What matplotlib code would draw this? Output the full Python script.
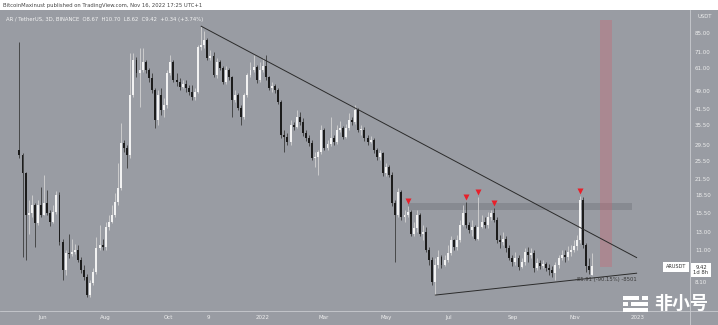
import datetime as dt

import matplotlib
matplotlib.use('Agg')
import matplotlib.pyplot as plt
import matplotlib.dates as mdates
from matplotlib.patches import Rectangle, FancyBboxPatch
from matplotlib.lines import Line2D
from matplotlib.ticker import FixedLocator, FuncFormatter, NullLocator
import numpy as np

# ---- data (ARUSDT, 3D candles) ----
start = dt.date(2021, 5, 9)
first_open = 28.2
last_open = 8.67

closes = [26.9, 22.6, 15.3, 15.6, 16.8, 14.2, 16.8, 15.3, 17.1, 15.6,
          14.3, 15.7, 18.4, 11.8, 9.07, 10.65, 10.55, 10.75, 10.96, 9.97,
          9.07, 8.49, 7.16, 8.02, 8.9, 11.2, 11.5, 11.3, 13.6, 14.3,
          15.2, 17.3, 19.7, 30.1, 28.7, 26.9, 47.4, 65.9, 58.3, 60.0,
          64.6, 60.0, 55.6, 49.7, 37.4, 47.4, 41.1, 43.1, 58.3, 64.6,
          54.6, 53.6, 51.1, 52.6, 50.6, 48.8, 46.5, 48.8, 74.6, 76.0,
          79.6, 67.2, 68.5, 57.2, 64.6, 61.2, 53.6, 60.0, 56.1, 45.2,
          47.4, 41.9, 38.5, 47.4, 57.2, 60.0, 61.8, 54.6, 60.0, 62.3,
          56.1, 50.6, 51.6, 49.7, 44.3, 32.5, 31.9, 30.4, 35.7, 35.0,
          38.5, 36.7, 33.0, 31.6, 30.1, 26.1, 26.4, 27.7, 34.0, 28.7,
          29.8, 31.6, 30.4, 34.0, 34.7, 31.9, 34.7, 37.4, 36.7, 41.1,
          34.0, 34.0, 31.6, 30.4, 31.0, 28.2, 26.4, 27.4, 22.6, 24.0,
          22.3, 17.1, 15.3, 18.9, 15.0, 15.3, 15.7, 12.8, 13.5, 15.3,
          12.8, 13.0, 10.96, 9.97, 8.1, 9.5, 10.3, 9.5, 9.97, 10.65,
          12.0, 11.3, 12.0, 13.9, 15.6, 13.9, 13.2, 13.6, 12.2, 13.6,
          14.3, 13.9, 14.9, 15.6, 14.6, 12.0, 11.8, 12.2, 11.2, 10.2,
          9.78, 10.2, 9.33, 9.78, 10.75, 10.5, 10.65, 9.25, 9.68, 9.4,
          9.59, 9.25, 9.07, 8.81, 9.5, 10.2, 10.5, 10.3, 10.75, 10.96,
          11.4, 12.0, 17.6, 11.5, 9.4, 9.08, 9.42]

highs = [78.1, 27.4, 22.9, 17.6, 18.4, 17.1, 17.6, 19.9, 22.3, 19.3,
         16.0, 16.8, 19.1, 18.9, 12.2, 10.96, 12.8, 12.2, 11.6, 11.5,
         10.3, 9.5, 8.73, 8.25, 9.25, 12.4, 13.9, 12.2, 14.3, 15.3,
         16.8, 18.8, 24.9, 36.4, 31.0, 29.5, 70.4, 70.4, 67.8, 73.8,
         73.8, 65.9, 61.2, 58.3, 50.6, 49.7, 50.6, 46.1, 60.0, 69.1,
         65.9, 58.0, 55.6, 54.6, 54.6, 52.1, 52.1, 50.6, 76.0, 90.6,
         86.6, 81.1, 72.4, 71.0, 67.2, 65.9, 62.3, 62.3, 61.0, 56.6,
         49.7, 48.3, 43.1, 48.3, 58.3, 64.6, 69.1, 62.9, 64.6, 67.2,
         69.1, 56.6, 53.6, 52.6, 50.6, 45.2, 34.0, 33.0, 37.4, 36.7,
         41.1, 40.3, 38.1, 34.0, 32.5, 31.0, 27.7, 28.2, 35.7, 34.7,
         31.0, 38.5, 32.5, 35.7, 37.0, 35.4, 36.0, 39.9, 38.5, 43.1,
         41.9, 35.7, 35.0, 32.5, 32.2, 31.6, 28.7, 28.2, 27.7, 24.9,
         24.5, 22.9, 17.6, 19.7, 19.3, 16.0, 16.6, 16.0, 14.3, 16.0,
         15.6, 13.9, 13.6, 11.3, 10.3, 10.2, 10.96, 10.5, 10.5, 11.5,
         12.5, 12.2, 12.6, 14.6, 16.8, 17.3, 14.3, 14.6, 13.9, 18.1,
         15.3, 14.9, 15.7, 16.0, 16.3, 14.9, 12.6, 13.0, 12.5, 11.5,
         10.5, 10.75, 10.5, 10.2, 11.2, 11.3, 11.2, 10.96, 10.2, 9.97,
         9.97, 9.78, 9.59, 9.4, 9.78, 10.5, 10.96, 10.96, 11.4, 11.5,
         12.0, 12.6, 18.3, 18.0, 11.7, 10.2, 10.70]

lows = [26.1, 10.3, 9.97, 12.8, 14.9, 11.3, 13.9, 14.9, 15.2, 15.2,
        13.8, 14.1, 15.4, 11.5, 8.25, 8.65, 10.2, 10.4, 10.55, 9.78,
        8.8, 8.25, 7.03, 7.05, 7.87, 8.7, 10.96, 10.96, 10.96, 13.2,
        14.1, 14.9, 16.8, 19.3, 27.7, 23.8, 26.1, 46.5, 56.1, 42.3,
        59.0, 58.0, 53.6, 48.3, 34.7, 35.7, 39.2, 38.5, 41.9, 57.2,
        53.6, 51.6, 49.7, 50.6, 48.8, 47.4, 45.2, 45.2, 48.3, 72.4,
        73.8, 65.9, 65.9, 56.1, 55.6, 60.0, 52.6, 52.6, 54.6, 38.5,
        44.3, 41.1, 35.7, 37.8, 46.5, 56.1, 59.0, 53.1, 53.6, 59.0,
        54.6, 49.7, 48.8, 48.3, 43.5, 31.6, 27.7, 29.5, 29.5, 34.0,
        34.7, 35.7, 32.2, 30.7, 29.2, 25.6, 24.0, 22.3, 27.1, 28.2,
        28.2, 29.2, 29.5, 29.8, 33.3, 31.3, 31.6, 34.0, 35.7, 36.0,
        33.3, 32.5, 30.7, 29.5, 30.1, 27.4, 25.6, 25.6, 22.0, 22.0,
        21.8, 16.6, 9.78, 14.9, 14.6, 14.3, 14.9, 12.5, 12.5, 13.0,
        12.5, 12.0, 10.75, 9.5, 7.87, 7.16, 9.25, 9.25, 9.4, 9.78,
        10.5, 10.96, 10.96, 11.8, 13.8, 13.5, 12.9, 12.5, 12.0, 12.0,
        13.5, 13.5, 13.5, 14.6, 14.3, 11.7, 11.2, 11.5, 10.75, 9.97,
        9.4, 9.5, 9.07, 9.25, 9.5, 9.78, 10.2, 8.9, 9.07, 9.16,
        9.25, 8.99, 8.65, 8.49, 8.25, 9.25, 9.97, 9.78, 9.97, 10.4,
        10.75, 10.96, 11.7, 11.2, 8.9, 8.73, 8.62]

marker_idx = [126, 145, 149, 154, 182]          # red "top" arrows
resist_idx = 126                                 # horizontal zone starts here
resist_zone = (16.0, 17.0)
support_idx = 135                                # rising support from June low
line_end = dt.date(2022, 12, 31)
down_end_price = 10.2
up_end_price = 8.8
red_zone = (dt.date(2022, 11, 25), dt.date(2022, 12, 7), 9.3, 96.0)

yticks = [85, 71, 61, 49, 41.5, 35.5, 29.5, 25.5, 21.5, 18.5, 15.5, 13, 11, 8.1]
xtick_dates = [dt.date(2021, 6, 1), dt.date(2021, 8, 1), dt.date(2021, 10, 1),
               dt.date(2021, 11, 9), dt.date(2022, 1, 1), dt.date(2022, 3, 1),
               dt.date(2022, 5, 1), dt.date(2022, 7, 1), dt.date(2022, 9, 1),
               dt.date(2022, 11, 1), dt.date(2023, 1, 1)]
xtick_labels = ['Jun', 'Aug', 'Oct', '9', '2022', 'Mar', 'May', 'Jul', 'Sep', 'Nov', '2023']

header = 'BitcoinMaxinust published on TradingView.com, Nov 16, 2022 17:25 UTC+1'
legend = 'AR / TetherUS, 3D, BINANCE  O8.67  H10.70  L8.62  C9.42  +0.34 (+3.74%)'
measure = '-85.91 (-90.15%) -8501'

# ---- figure ----
W, H = 718, 325
GREY = '#999ca3'
plt.rcParams['font.family'] = ['DejaVu Sans']


def fx(px):
    return px / W


def fy(py):
    return 1 - py / H


fig = plt.figure(figsize=(W / 100, H / 100), dpi=100, facecolor='white')
fig.patches.append(Rectangle((0, 0), 1, fy(10), transform=fig.transFigure,
                             facecolor=GREY, edgecolor='none', zorder=-5))
ax = fig.add_axes([fx(3), fy(311), fx(690) - fx(3), fy(10) - fy(311)])
ax.set_facecolor(GREY)

x = mdates.date2num([start + dt.timedelta(days=3 * i) for i in range(len(closes))])
c = np.array(closes)
h = np.array(highs)
l = np.array(lows)
o = np.concatenate([[first_open], c[:-1]])
o[-1] = last_open
up = c >= o

ax.set_yscale('log')
ax.vlines(x[up], l[up], h[up], color='#d4d4d4', lw=0.6, zorder=3)
ax.vlines(x[~up], l[~up], h[~up], color='#3a3a3a', lw=0.6, zorder=3)
bottom = np.minimum(o, c)
height = np.maximum(np.abs(c - o), bottom * 0.012)
ax.bar(x[up], height[up], bottom=bottom[up], width=1.9, color='#f2f2f2',
       edgecolor='none', zorder=4)
ax.bar(x[~up], height[~up], bottom=bottom[~up], width=1.9, color='#1c1c1c',
       edgecolor='none', zorder=4)

# trendlines
ath = int(np.argmax(h))
xe = mdates.date2num(line_end)
ax.plot([x[ath], xe], [h[ath], down_end_price], color='#2b2b2b', lw=0.7, zorder=5)
ax.plot([x[support_idx], xe], [l[support_idx], up_end_price], color='#2b2b2b', lw=0.7, zorder=5)

# resistance zone and target zone
ax.fill_between([x[resist_idx], xe - 4], resist_zone[0], resist_zone[1],
                color='#6e7077', alpha=0.4, lw=0, zorder=2)
r0, r1, rlo, rhi = red_zone
ax.fill_between(mdates.date2num([r0, r1]), rlo, rhi, color='#d0606e', alpha=0.32,
                lw=0, zorder=2)

# red arrows on local tops
mi = np.array(marker_idx)
ax.plot(x[mi], h[mi] * 1.045, 'v', color='#e8202a', ms=4, mec='none', zorder=6)

ax.set_xlim(mdates.date2num(dt.date(2021, 4, 23)), mdates.date2num(dt.date(2023, 2, 21)))
ax.set_ylim(6.16, 105.6)
for s in ax.spines.values():
    s.set_visible(False)

ax.yaxis.tick_right()
ax.yaxis.set_major_locator(FixedLocator(yticks))
ax.yaxis.set_minor_locator(NullLocator())
ax.yaxis.set_major_formatter(FuncFormatter(lambda v, p: f'{v:.2f}'))
ax.tick_params(axis='y', length=0, pad=3.5, labelsize=4, labelcolor='#eeeeee')
ax.set_xticks(mdates.date2num(xtick_dates))
ax.set_xticklabels(xtick_labels)
ax.tick_params(axis='x', length=0, pad=3, labelsize=4, labelcolor='#eeeeee')

# separators of the price / time scales
fig.add_artist(Line2D([fx(690), fx(690)], [0, fy(10)], color='#c9cbd0', lw=0.6))
fig.add_artist(Line2D([0, 1], [fy(311), fy(311)], color='#c9cbd0', lw=0.6))

# texts
fig.text(fx(3), fy(5), header, fontsize=3.8, color='#444444', va='center')
fig.text(fx(6), fy(19), legend, fontsize=3.8, color='#f4f4f4', va='center')
fig.text(fx(697), fy(17), 'USDT', fontsize=3.8, color='#eeeeee', va='center')
fig.text(fx(606), fy(280), measure, fontsize=3.8, color='#3a3a3a', ha='center', va='center')
fig.text(fx(676), fy(267), 'ARUSDT', fontsize=3.6, color='#333333', ha='center', va='center',
         bbox=dict(boxstyle='square,pad=0.5', fc='white', ec='none'))
fig.text(fx(701), fy(270), '9.42\n1d 8h', fontsize=3.8, color='#333333', ha='center',
         va='center', linespacing=1.1,
         bbox=dict(boxstyle='square,pad=0.4', fc='white', ec='none'))

# watermark
for (x0, y0, w, hh) in [(623, 296, 16, 4), (642, 296, 6, 4), (623, 302, 5, 4),
                        (631, 302, 17, 4), (623, 308, 25, 4)]:
    fig.patches.append(FancyBboxPatch((fx(x0), fy(y0 + hh)), fx(w), hh / H,
                                      boxstyle='round,pad=0', transform=fig.transFigure,
                                      facecolor='white', edgecolor='none', zorder=10))
fig.text(fx(681), fy(303), '非小号', fontsize=13, color='white', ha='center', va='center',
         family=['Noto Sans CJK SC'], fontweight='bold')

fig.savefig('out.png', dpi=100, facecolor='white')
